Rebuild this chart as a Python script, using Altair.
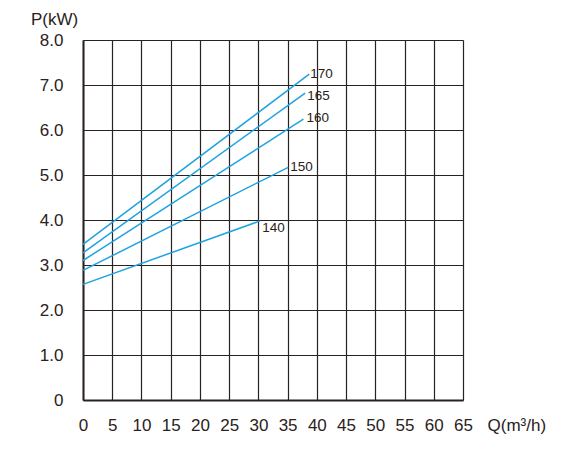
import altair as alt
import pandas as pd

heads = ["140", "150", "160", "165", "170"]
q_start = [0, 0, 0, 0, 0]
p_start = [2.57, 2.88, 3.10, 3.27, 3.46]
q_end = [30.3, 35.1, 37.7, 38.0, 38.7]
p_end = [3.98, 5.17, 6.24, 6.82, 7.24]
label_dx = [2, 2, 3, 2, 1]
label_dy = [7, 0, -1, 3, 0]

x_ticks = list(range(0, 66, 5))
y_ticks = list(range(0, 9))

rows = []
for h, qs, ps, qe, pe in zip(heads, q_start, p_start, q_end, p_end):
    rows.append({"head": h, "Q": qs, "P": ps})
    rows.append({"head": h, "Q": qe, "P": pe})
lines_df = pd.DataFrame(rows)
labels_df = pd.DataFrame({"head": heads, "Q": q_end, "P": p_end})

ink = "#2a2220"
blue = "#1ea2e2"
font = "Liberation Sans"

x = alt.X("Q:Q", scale=alt.Scale(domain=[0, 65], nice=False),
          axis=alt.Axis(values=x_ticks, tickCount=14, title="Q(m³/h)", titleAngle=0,
                        titleAlign="left", titleBaseline="middle",
                        titleX=404, titleY=25, titleFontWeight="normal",
                        titleFontSize=17, titleFont=font, titleColor=ink,
                        labelFontSize=17, labelFont=font, labelColor=ink,
                        labelOverlap=False, labelBound=False, labelFlush=False,
                        labelPadding=17, ticks=False, grid=True,
                        gridColor=ink, gridWidth=1.2, gridOpacity=1,
                        domainColor=ink, domainWidth=2))
y = alt.Y("P:Q", scale=alt.Scale(domain=[0, 8], nice=False),
          axis=alt.Axis(values=y_ticks, title="P(kW)", titleAngle=0,
                        titleAlign="center", titleBaseline="middle",
                        titleX=-29, titleY=-21, titleFontWeight="normal",
                        titleFontSize=17, titleFont=font, titleColor=ink,
                        labelExpr="datum.value == 0 ? '0' : format(datum.value, '.1f')",
                        labelFontSize=17, labelFont=font, labelColor=ink,
                        labelOverlap=False, labelBound=False, labelFlush=False,
                        labelPadding=20, ticks=False, grid=True,
                        gridColor=ink, gridWidth=1.2, gridOpacity=1,
                        domainColor=ink, domainWidth=2))

lines = alt.Chart(lines_df).mark_line(color=blue, strokeWidth=1.5).encode(
    x=x, y=y, detail="head:N"
)

texts = []
for h, qe, pe, dx, dy in zip(heads, q_end, p_end, label_dx, label_dy):
    sub = labels_df[labels_df["head"] == h]
    texts.append(
        alt.Chart(sub).mark_text(align="left", baseline="middle", dx=dx, dy=dy,
                                 fontSize=13.5, font=font, color=ink).encode(
            x="Q:Q", y="P:Q", text="head:N")
    )

chart = alt.layer(lines, *texts).properties(
    width=380, height=360,
    autosize=alt.AutoSizeParams(type="none"),
    padding={"left": 75, "top": 32, "right": 95, "bottom": 45},
).configure_view(stroke=None).configure(background="white")

chart.save("out.html", embed_options={"renderer": "svg", "actions": False})
